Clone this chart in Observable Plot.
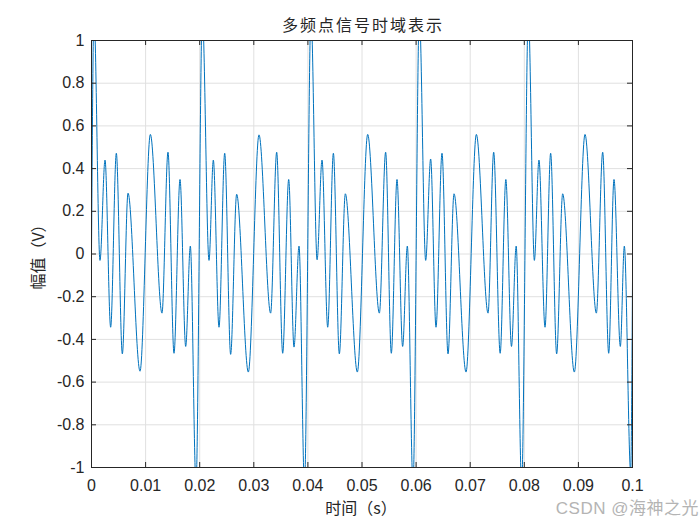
<!DOCTYPE html>
<html><head><meta charset="utf-8">
<script src="https://cdn.jsdelivr.net/npm/d3@7"></script>
<script src="https://cdn.jsdelivr.net/npm/@observablehq/plot@0.6"></script>
<style>body{margin:0;background:#fff}</style>
</head><body><div id="chart"></div>
<script>
const title = "多频点信号时域表示";
const xLabel = "时间（s）";
const yLabel = "幅值（V）";
const watermark = "CSDN @海神之光";
const xTicks = [0, 0.01, 0.02, 0.03, 0.04, 0.05, 0.06, 0.07, 0.08, 0.09, 0.1];
const yTicks = [-1, -0.8, -0.6, -0.4, -0.2, 0, 0.2, 0.4, 0.6, 0.8, 1];

// Signal turning points (time in s, amplitude in V)
const tData = [
  0,
  0.00046, 0.00157, 0.0025, 0.00354, 0.00459, 0.0057, 0.00675, 0.00897,
  0.01088, 0.01303, 0.01414, 0.01525, 0.01636, 0.01741, 0.01827, 0.01932,
  0.02049, 0.02172, 0.02252, 0.02357, 0.02462, 0.02572, 0.02683, 0.02899,
  0.03096, 0.03311, 0.03423, 0.03534, 0.03645, 0.03743, 0.03836, 0.03937,
  0.04057, 0.0417, 0.04261, 0.04366, 0.04471, 0.04581, 0.04692, 0.04914,
  0.05105, 0.05321, 0.05437, 0.05542, 0.05647, 0.05751, 0.05838, 0.05943,
  0.0606, 0.06177, 0.06269, 0.06368, 0.06479, 0.0659, 0.06701, 0.06923,
  0.07114, 0.0733, 0.07434, 0.07554, 0.07659, 0.07763, 0.0785, 0.07951,
  0.08075, 0.08186, 0.08271, 0.08383, 0.08487, 0.08598, 0.08709, 0.08925,
  0.09122, 0.09332, 0.09449, 0.0956, 0.09658, 0.09775, 0.09849, 0.09966,
  0.1
];
const vData = [
  0,
  1.12, -0.03, 0.44, -0.343, 0.472, -0.468, 0.285, -0.549,
  0.56, -0.277, 0.477, -0.465, 0.349, -0.433, 0.037, -1.08,
  1.12, -0.03, 0.44, -0.343, 0.472, -0.47, 0.28, -0.553,
  0.558, -0.277, 0.477, -0.465, 0.349, -0.436, 0.037, -1.08,
  1.12, -0.027, 0.44, -0.343, 0.472, -0.468, 0.282, -0.553,
  0.56, -0.277, 0.477, -0.465, 0.349, -0.433, 0.037, -1.08,
  1.12, -0.03, 0.445, -0.343, 0.472, -0.468, 0.282, -0.553,
  0.56, -0.277, 0.477, -0.465, 0.349, -0.433, 0.037, -1.08,
  1.12, -0.03, 0.44, -0.343, 0.472, -0.468, 0.282, -0.553,
  0.56, -0.277, 0.477, -0.465, 0.349, -0.433, 0.037, -1.02,
  -0.12
];
const points = tData.map((t, i) => ({t, v: vData[i]}));

const W = 700, H = 525, mL = 91, mR = 68, mT = 40, mB = 58;
const innerW = W - mL - mR, innerH = H - mT - mB;
const axisColor = "#262626";

const svg = Plot.plot({
  width: W, height: H,
  marginLeft: mL, marginRight: mR, marginTop: mT, marginBottom: mB,
  style: {fontFamily: "'Liberation Sans', Arial, sans-serif", fontSize: "16px", color: axisColor, background: "#fff"},
  x: {domain: [0, 0.1]},
  y: {domain: [-1, 1]},
  marks: [
    Plot.gridX(xTicks, {stroke: "#e0e0e0", strokeOpacity: 1}),
    Plot.gridY(yTicks, {stroke: "#e0e0e0", strokeOpacity: 1}),
    Plot.line(points, {x: "t", y: "v", stroke: "#0072BD", strokeWidth: 1, curve: "monotone-x", clip: true}),
    Plot.tickX(xTicks, {x: d => d, stroke: axisColor, insetTop: innerH - 5}),
    Plot.tickX(xTicks, {x: d => d, stroke: axisColor, insetBottom: innerH - 5}),
    Plot.tickY(yTicks, {y: d => d, stroke: axisColor, insetRight: innerW - 5}),
    Plot.tickY(yTicks, {y: d => d, stroke: axisColor, insetLeft: innerW - 5}),
    Plot.axisX(xTicks, {tickSize: 0, tickPadding: 12, tickFormat: d => String(d), fontSize: 16, label: null}),
    Plot.axisY(yTicks, {tickSize: 0, tickPadding: 7, tickFormat: d => String(d), fontSize: 16, label: null}),
    Plot.frame({stroke: axisColor})
  ]
});

const s = d3.select(svg);
const cjk = "'Noto Sans CJK SC', 'Noto Sans', sans-serif";
s.append("text").text(title)
  .attr("x", 363).attr("y", 31).attr("text-anchor", "middle")
  .attr("font-family", cjk).attr("font-size", 16).attr("letter-spacing", 2)
  .attr("fill", axisColor);
s.append("text").text(xLabel)
  .attr("x", 361).attr("y", 514).attr("text-anchor", "middle")
  .attr("font-family", cjk).attr("font-size", 16).attr("fill", axisColor);
s.append("text").text(yLabel)
  .attr("transform", "translate(44,253) rotate(-90)").attr("text-anchor", "middle")
  .attr("font-family", cjk).attr("font-size", 16).attr("fill", axisColor);
s.append("text").text(watermark)
  .attr("x", 699).attr("y", 514).attr("text-anchor", "end")
  .attr("font-family", "'Liberation Sans', " + cjk).attr("font-size", 17).attr("letter-spacing", 0.5)
  .attr("fill", "#b4b4b4");

document.getElementById("chart").appendChild(svg);
</script>
</body></html>
